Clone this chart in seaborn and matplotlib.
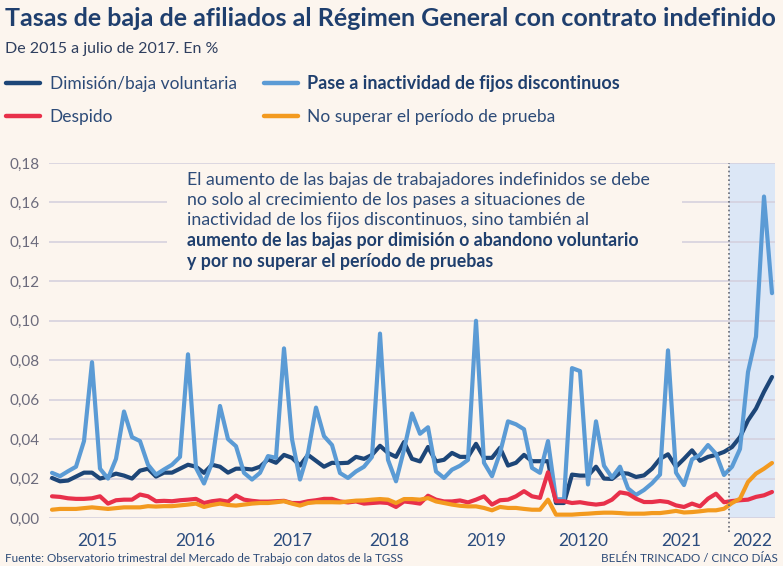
import matplotlib
matplotlib.use("Agg")
import matplotlib.pyplot as plt
from matplotlib.patches import Rectangle
import seaborn as sns
import numpy as np
import pandas as pd

# Colours
BG = '#fcf5ee'
NAVY = '#1f3f6e'
TEXT = '#2d4b78'
GRID = '#d3cfdc'

# Series, monthly from January 2015 to July 2022
SERIES = ['Dimisión/baja voluntaria', 'Pase a inactividad de fijos discontinuos',
          'Despido', 'No superar el período de prueba']
COLORS = ['#1d4678', '#5b9bd5', '#e8304a', '#f39a1f']

dimision = [
    0.0203, 0.0186, 0.0190, 0.0210, 0.0230, 0.0230, 0.0200, 0.0210, 0.0225, 0.0215, 0.0200, 0.0240,
    0.0250, 0.0210, 0.0230, 0.0230, 0.0250, 0.0270, 0.0260, 0.0229, 0.0270, 0.0260, 0.0230, 0.0250,
    0.0250, 0.0246, 0.0260, 0.0297, 0.0280, 0.0320, 0.0305, 0.0266, 0.0320, 0.0290, 0.0260, 0.0280,
    0.0278, 0.0280, 0.0310, 0.0300, 0.0320, 0.0366, 0.0330, 0.0310, 0.0385, 0.0300, 0.0287, 0.0360,
    0.0287, 0.0295, 0.0330, 0.0310, 0.0310, 0.0376, 0.0305, 0.0305, 0.0356, 0.0266, 0.0280, 0.0320,
    0.0288, 0.0288, 0.0288, 0.0076, 0.0076, 0.0220, 0.0215, 0.0215, 0.0260, 0.0200, 0.0198, 0.0229,
    0.0225, 0.0208, 0.0216, 0.0250, 0.0300, 0.0323, 0.0260, 0.0300, 0.0343, 0.0290, 0.0310, 0.0320,
    0.0335, 0.0360, 0.0410, 0.0495, 0.0555, 0.0640, 0.0715,
]
fijos_discontinuos = [
    0.0229, 0.0212, 0.0237, 0.0260, 0.0390, 0.0790, 0.0250, 0.0200, 0.0300, 0.0540, 0.0410, 0.0390,
    0.0270, 0.0220, 0.0246, 0.0270, 0.0310, 0.0830, 0.0254, 0.0175, 0.0280, 0.0568, 0.0400, 0.0364,
    0.0229, 0.0195, 0.0229, 0.0314, 0.0305, 0.0860, 0.0400, 0.0195, 0.0330, 0.0560, 0.0415, 0.0370,
    0.0228, 0.0203, 0.0236, 0.0260, 0.0310, 0.0935, 0.0295, 0.0186, 0.0346, 0.0530, 0.0427, 0.0460,
    0.0236, 0.0203, 0.0245, 0.0265, 0.0295, 0.1000, 0.0280, 0.0212, 0.0330, 0.0490, 0.0475, 0.0450,
    0.0254, 0.0229, 0.0390, 0.0095, 0.0095, 0.0760, 0.0745, 0.0170, 0.0490, 0.0265, 0.0205, 0.0260,
    0.0150, 0.0117, 0.0142, 0.0176, 0.0220, 0.0850, 0.0230, 0.0167, 0.0297, 0.0320, 0.0370, 0.0325,
    0.0218, 0.0260, 0.0350, 0.0740, 0.0920, 0.1630, 0.1140,
]
despido = [
    0.0110, 0.0107, 0.0100, 0.0097, 0.0097, 0.0100, 0.0110, 0.0073, 0.0090, 0.0093, 0.0093, 0.0119,
    0.0110, 0.0085, 0.0087, 0.0085, 0.0090, 0.0093, 0.0097, 0.0076, 0.0085, 0.0090, 0.0083, 0.0114,
    0.0093, 0.0087, 0.0083, 0.0083, 0.0085, 0.0087, 0.0076, 0.0076, 0.0085, 0.0090, 0.0097, 0.0097,
    0.0084, 0.0079, 0.0084, 0.0073, 0.0076, 0.0079, 0.0076, 0.0056, 0.0084, 0.0079, 0.0073, 0.0113,
    0.0093, 0.0084, 0.0084, 0.0089, 0.0079, 0.0093, 0.0110, 0.0068, 0.0090, 0.0093, 0.0110, 0.0136,
    0.0110, 0.0102, 0.0232, 0.0085, 0.0085, 0.0076, 0.0080, 0.0073, 0.0068, 0.0073, 0.0093, 0.0130,
    0.0123, 0.0098, 0.0081, 0.0081, 0.0086, 0.0081, 0.0064, 0.0056, 0.0073, 0.0059, 0.0098, 0.0123,
    0.0080, 0.0086, 0.0090, 0.0093, 0.0107, 0.0115, 0.0132,
]
periodo_prueba = [
    0.0042, 0.0046, 0.0046, 0.0046, 0.0050, 0.0054, 0.0050, 0.0046, 0.0050, 0.0054, 0.0054, 0.0054,
    0.0060, 0.0058, 0.0060, 0.0060, 0.0064, 0.0068, 0.0073, 0.0056, 0.0066, 0.0073, 0.0066, 0.0063,
    0.0068, 0.0073, 0.0076, 0.0076, 0.0080, 0.0085, 0.0073, 0.0063, 0.0076, 0.0080, 0.0080, 0.0080,
    0.0079, 0.0084, 0.0088, 0.0089, 0.0093, 0.0096, 0.0093, 0.0076, 0.0096, 0.0096, 0.0093, 0.0101,
    0.0084, 0.0076, 0.0068, 0.0062, 0.0059, 0.0059, 0.0051, 0.0039, 0.0056, 0.0051, 0.0051, 0.0046,
    0.0042, 0.0042, 0.0093, 0.0017, 0.0017, 0.0017, 0.0020, 0.0022, 0.0025, 0.0027, 0.0027, 0.0025,
    0.0022, 0.0022, 0.0022, 0.0025, 0.0025, 0.0030, 0.0036, 0.0028, 0.0030, 0.0034, 0.0039, 0.0039,
    0.0047, 0.0076, 0.0098, 0.0183, 0.0225, 0.0250, 0.0279,
]

YEAR_LABELS = ['2015', '2016', '2017', '2018', '2019', '20120', '2021', '2022']
Y_TICKS = [0.00, 0.02, 0.04, 0.06, 0.08, 0.10, 0.12, 0.14, 0.16, 0.18]

TITLE = 'Tasas de baja de afiliados al Régimen General con contrato indefinido'
SUBTITLE = 'De 2015 a julio de 2017. En %'
NOTE = ('El aumento de las bajas de trabajadores indefinidos se debe\n'
        'no solo al crecimiento de los pases a situaciones de\n'
        'inactividad de los fijos discontinuos, sino también al')
NOTE_BOLD = ('aumento de las bajas por dimisión o abandono voluntario\n'
             'y por no superar el período de pruebas')
SOURCE = 'Fuente: Observatorio trimestral del Mercado de Trabajo con datos de la TGSS'
CREDIT = 'BELÉN TRINCADO / CINCO DÍAS'


def build_frame():
    rows = []
    for name, values in zip(SERIES, [dimision, fijos_discontinuos, despido, periodo_prueba]):
        for i, v in enumerate(values):
            rows.append({'mes': i, 'tasa': v, 'serie': name})
    return pd.DataFrame(rows)


def main():
    sns.set_style('white')
    plt.rcParams['font.family'] = ['Lato', 'DejaVu Sans']

    df = build_frame()
    n = len(dimision)

    fig = plt.figure(figsize=(7.83, 5.66), dpi=100, facecolor=BG)
    ax = fig.add_axes([49 / 783, 1 - 518 / 566, 726 / 783, 355 / 566])
    ax.set_facecolor(BG)

    sns.lineplot(data=df, x='mes', y='tasa', hue='serie', hue_order=SERIES,
                 palette=COLORS, linewidth=3, ax=ax, zorder=3)

    # year bands (the source spaces them a bit wider than 12 points)
    left, right = -0.375, n - 1 + 0.375
    edges = left + 12.15 * np.arange(len(YEAR_LABELS))
    centers = (edges + np.append(edges[1:], right)) / 2

    ax.axvspan(edges[-1], right, color='#dce7f6', zorder=0.2, lw=0)
    ax.axvline(edges[-1], ymin=-0.04, ymax=1, clip_on=False, color='#666a75',
               linestyle=(0, (1, 1.6)), linewidth=1.2, zorder=4)

    ax.set_xlim(left, right)
    ax.set_ylim(0, 0.18)
    ax.set_yticks(Y_TICKS)
    ax.set_yticklabels([f'{v:.2f}'.replace('.', ',') for v in Y_TICKS])
    ax.tick_params(axis='y', length=0, pad=7, labelsize=11, labelcolor='#6c6b7c')

    ax.set_xticks(edges[:-1])
    ax.set_xticklabels([])
    ax.set_xticks(centers, minor=True)
    ax.set_xticklabels(YEAR_LABELS, minor=True)
    ax.tick_params(axis='x', which='major', length=10, width=1, color='#cdc9d6', direction='out')
    ax.tick_params(axis='x', which='minor', length=0, pad=11, labelsize=12.5, labelcolor='#2b4c7e')

    ax.grid(axis='y', color=GRID, linewidth=1.1, zorder=0.5)
    ax.grid(axis='x', visible=False)
    ax.set_axisbelow(True)
    for s in ax.spines.values():
        s.set_visible(False)
    ax.set_xlabel('')
    ax.set_ylabel('')

    # blank area behind the note, hiding two grid lines
    ax.add_patch(Rectangle((14.4, 0.125), 64.4, 0.05, facecolor=BG, edgecolor='none', zorder=0.8))

    # legend, two columns at the top
    handles, labels = ax.get_legend_handles_labels()
    ax.get_legend().remove()
    order = [0, 2, 1, 3]
    leg = fig.legend([handles[i] for i in order], [labels[i] for i in order],
                     loc='upper left', bbox_to_anchor=(6 / 783, 1 - 75 / 566), ncol=2,
                     frameon=False, fontsize=12.5, handlelength=1.95, handletextpad=0.57,
                     columnspacing=1.55, labelspacing=0.98, borderpad=0, borderaxespad=0)
    for t in leg.get_texts():
        t.set_color(TEXT)
    leg.get_texts()[2].set_fontweight('bold')
    leg.get_texts()[2].set_fontsize(13)
    leg.get_texts()[2].set_color(NAVY)
    for h in leg.legend_handles:
        h.set_linewidth(3.2)

    fig.text(5 / 783, 1 - 19 / 566, TITLE, fontsize=18, fontweight='bold', color=NAVY, va='center')
    fig.text(5 / 783, 1 - 49 / 566, SUBTITLE, fontsize=11.5, color='#2f3f5f', va='center')

    fig.text(187 / 783, 1 - 172 / 566, NOTE, fontsize=12.8, color=TEXT, va='top', linespacing=1.3)
    fig.text(187 / 783, 1 - 232 / 566, NOTE_BOLD, fontsize=12.8, color=NAVY, va='top',
             fontweight='bold', linespacing=1.3)

    fig.text(5 / 783, 1 - 558 / 566, SOURCE, fontsize=8.4, color='#2d4b78', va='center')
    fig.text(778 / 783, 1 - 558 / 566, CREDIT, fontsize=8.4, color='#2d4b78', va='center', ha='right')

    fig.savefig('out.png', dpi=100, facecolor=BG)


if __name__ == '__main__':
    main()
